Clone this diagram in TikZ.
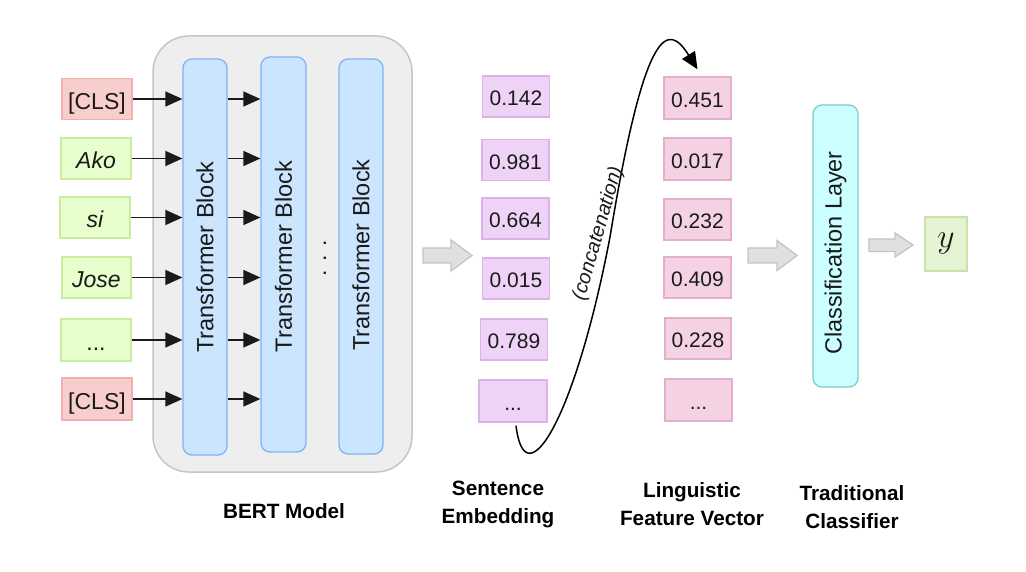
\documentclass[tikz,border=0pt]{standalone}
\usepackage{fontspec}
\setmainfont{Liberation Sans}
\usepackage{graphicx}
\usetikzlibrary{arrows.meta}
\definecolor{clsfill}{HTML}{F8CECC}
\definecolor{clsdraw}{HTML}{F2AFAF}
\definecolor{tokfill}{HTML}{E6FFCC}
\definecolor{tokdraw}{HTML}{C9EC9E}
\definecolor{bertfill}{HTML}{EEEEEE}
\definecolor{bertdraw}{HTML}{C6C6C6}
\definecolor{tbfill}{HTML}{CCE5FF}
\definecolor{tbdraw}{HTML}{7EB4F2}
\definecolor{sefill}{HTML}{EED3F6}
\definecolor{sedraw}{HTML}{DDB2E8}
\definecolor{lffill}{HTML}{F5D2E3}
\definecolor{lfdraw}{HTML}{E5AECB}
\definecolor{clffill}{HTML}{CCFFFF}
\definecolor{clfdraw}{HTML}{7CCDCD}
\definecolor{yfill}{HTML}{E4F3D2}
\definecolor{ydraw}{HTML}{C8E2AA}
\definecolor{garfill}{HTML}{E0E0E0}
\definecolor{gardraw}{HTML}{C4C4C4}
\definecolor{ink}{HTML}{1A1A1A}
\begin{document}
\begin{tikzpicture}[x=1pt,y=-1pt,
  tokbase/.style={rectangle, draw, line width=1.3pt, inner sep=0pt, minimum width=70pt, minimum height=41pt, text=ink, text height=20.5pt, text depth=0pt, font=\fontsize{23}{27.6}\selectfont},
  clsbox/.style={tokbase, fill=clsfill, draw=clsdraw},
  wordbox/.style={tokbase, fill=tokfill, draw=tokdraw},
  bertbox/.style={rectangle, rounded corners=36pt, fill=bertfill, draw=bertdraw, line width=1.5pt, minimum width=259pt, minimum height=436pt, inner sep=0pt},
  tblock/.style={rectangle, rounded corners=9pt, draw=tbdraw, fill=tbfill, line width=1.3pt, minimum width=44pt, minimum height=396pt, inner sep=0pt, text=ink, font=\fontsize{23.5}{28}\selectfont},
  valbox/.style={rectangle, line width=1.3pt, inner sep=0pt, minimum width=67pt, minimum height=41pt, text=ink, text height=18.9pt, text depth=0pt, font=\fontsize{21}{25}\selectfont},
  sebox/.style={valbox, fill=sefill, draw=sedraw},
  lfbox/.style={valbox, fill=lffill, draw=lfdraw},
  clfbox/.style={rectangle, rounded corners=9pt, fill=clffill, draw=clfdraw, line width=1.3pt, minimum width=45pt, minimum height=282pt, inner sep=0pt, text=ink, font=\fontsize{23.5}{28}\selectfont},
  ybox/.style={rectangle, fill=yfill, draw=ydraw, line width=1.3pt, minimum width=42pt, minimum height=54pt, inner sep=0pt, text=ink, font=\fontsize{24}{28}\selectfont},
  arr/.style={line width=1.5pt, draw=ink, -{Triangle[length=17pt,width=15pt]}},
  curvearr/.style={line width=1.5pt, draw=black, -{Triangle[length=17pt,width=15pt]}},
  blockarrow/.style={fill=garfill, draw=gardraw, line width=1.3pt},
  concat/.style={rotate=74, anchor=south, inner sep=2pt, text=ink, font=\fontsize{20}{24}\selectfont\itshape},
  caption/.style={align=center, text=black, font=\fontsize{20.7}{28}\selectfont\bfseries}
]
\useasboundingbox[fill=white] (0,0) rectangle (1026,572);

% BERT container and transformer blocks
\node[bertbox] (bert) at (282.5,254) {};
\node[tblock] (tb1) at (205,257) {\rotatebox{90}{Transformer Block}};
\node[tblock, minimum width=45pt, minimum height=395pt] (tb2) at (283.5,254.5) {\rotatebox{90}{Transformer Block\hspace*{4pt}}};
\node[tblock, minimum height=395pt] (tb3) at (361,256.5) {\rotatebox{90}{\hspace*{3pt}Transformer Block}};
\node[text=ink, inner sep=0pt, font=\fontsize{23}{27}\selectfont] (vdots) at (325,258) {\rotatebox{90}{.\hspace{8.5pt}.\hspace{8.5pt}.}};

% input tokens
\node[clsbox] (cls1) at (97,99) {[CLS]};
\node[wordbox] (ako) at (96,158.5) {\itshape Ako};
\node[wordbox] (si) at (95,217.5) {\itshape si};
\node[wordbox, minimum width=69pt] (jose) at (96.5,277.5) {\itshape Jose};
\node[wordbox, minimum height=42pt] (tdots) at (96,340) {...};
\node[clsbox, minimum height=42pt] (cls2) at (97,399) {[CLS]};

\foreach \t in {cls1,ako,si,jose,tdots,cls2}{
  \draw[arr] (\t.east) -- (\t.east -| tb1.west);
  \draw[arr] (\t.east -| tb1.east) -- (\t.east -| tb2.west);
}

% grey block arrows
\draw[blockarrow] (423,248) -- (451,248) -- (451,240) -- (472,255.5) -- (451,271) -- (451,263) -- (423,263) -- cycle;
\draw[blockarrow] (748,248) -- (777,248) -- (777,240.5) -- (797,255.5) -- (777,270.5) -- (777,263) -- (748,263) -- cycle;
\draw[blockarrow] (869,239) -- (895,239) -- (895,233) -- (913,245) -- (895,257) -- (895,251.5) -- (869,251.5) -- cycle;

% sentence embedding
\node[sebox] (se1) at (516,96.5) {0.142};
\node[sebox] (se2) at (515.5,160) {0.981};
\node[sebox] (se3) at (515.5,218.5) {0.664};
\node[sebox] (se4) at (516,278.5) {0.015};
\node[sebox] (se5) at (514,339.5) {0.789};
\node[sebox, minimum width=68pt, minimum height=42pt] (se6) at (513,401) {...};

% linguistic feature vector
\node[lfbox, minimum height=42pt] (lf1) at (697.5,98) {0.451};
\node[lfbox, minimum height=42pt] (lf2) at (697.5,159) {0.017};
\node[lfbox] (lf3) at (697.5,219.5) {0.232};
\node[lfbox] (lf4) at (697.5,277.5) {0.409};
\node[lfbox, minimum width=66pt] (lf5) at (698,338.5) {0.228};
\node[lfbox, minimum height=42pt] (lf6) at (698.5,400) {...};

% concatenation curve
\coordinate (cstart) at ([xshift=3pt,yshift=-3pt]se6.south);
\coordinate (cend) at ([yshift=7pt]lf1.north);
\draw[curvearr] (cstart) .. controls (525,500) and (575,420) .. (610,237) node[concat] {(concatenation)} .. controls (645,24) and (668,22) .. (cend);

% classifier and output
\node[clfbox] (clf) at (835.5,246) {\rotatebox{90}{Classification Layer\hspace*{14pt}}};
\node[ybox] (y) at (946,244) {\scalebox{1.35}{$y$}};

% captions
\node[caption] (lbert) at (284,511) {BERT Model};
\node[caption] (lse) at (498,504) {Sentence\\Embedding};
\node[caption] (llf) at (692,504.5) {Linguistic\\Feature Vector};
\node[caption] (ltc) at (852,507) {Traditional\\Classifier};
\end{tikzpicture}
\end{document}
